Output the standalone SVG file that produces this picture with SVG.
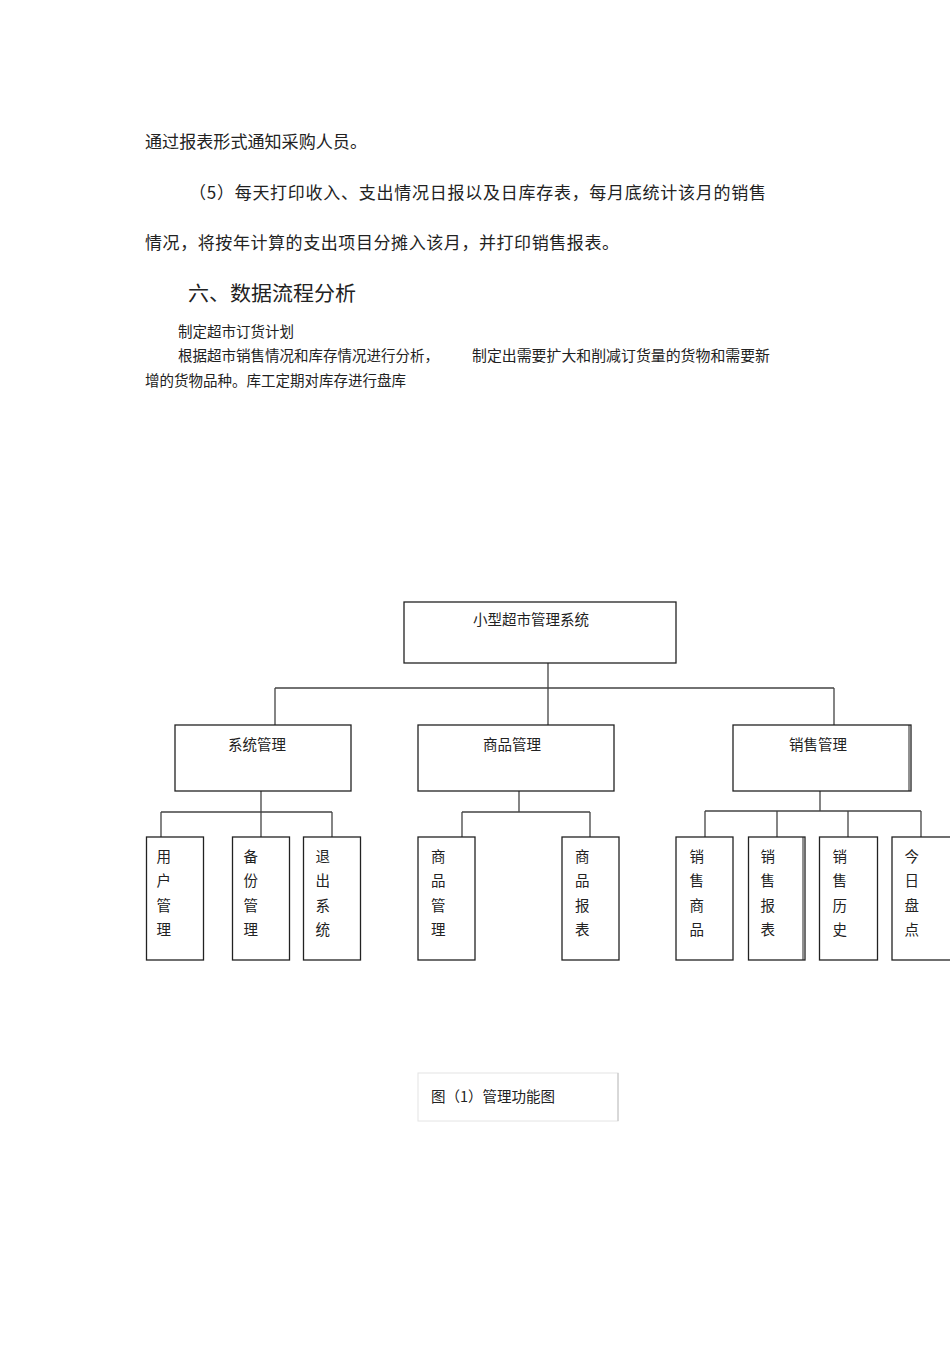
<svg xmlns="http://www.w3.org/2000/svg" width="950" height="1345" viewBox="0 0 950 1345">
<style>
.t{font-family:"Noto Sans CJK SC","Liberation Sans",sans-serif;fill:#222}
.p{font-size:17px}
.h{font-size:20px}
.s{font-size:14.5px}
.b{fill:#fff;stroke:#222;stroke-width:1.3}
.c{fill:none;stroke:#444;stroke-width:1.3}
</style>
<rect width="950" height="1345" fill="#fff"/>
<g id="body-text">
<text class="t p" x="145" y="148" textLength="222" lengthAdjust="spacingAndGlyphs">通过报表形式通知采购人员。</text>
<text class="t p" x="189" y="199" textLength="577" lengthAdjust="spacing">（5）每天打印收入、支出情况日报以及日库存表，每月底统计该月的销售</text>
<text class="t p" x="145" y="249" textLength="474" lengthAdjust="spacing">情况，将按年计算的支出项目分摊入该月，并打印销售报表。</text>
<text class="t h" x="188" y="301" textLength="168" lengthAdjust="spacingAndGlyphs">六、数据流程分析</text>
<text class="t s" x="178" y="337">制定超市订货计划</text>
<text class="t s" x="178" y="361">根据超市销售情况和库存情况进行分析，</text>
<text class="t s" x="472" y="361" textLength="298" lengthAdjust="spacingAndGlyphs">制定出需要扩大和削减订货量的货物和需要新</text>
<text class="t s" x="145" y="386">增的货物品种。库工定期对库存进行盘库</text>
</g>
<g id="connectors">
<path class="c" d="M548 663V725M275 688H834M275 688V725M834 688V725"/>
<path class="c" d="M261 791V837M161 812H332M161 812V837M332 812V837"/>
<path class="c" d="M519 791V812M462 812H590M462 812V837M590 812V837"/>
<path class="c" d="M820 791V811M705 811H921M705 811V837M777 811V837M848 811V837M921 811V837"/>
</g>
<g id="root">
<rect class="b" x="404" y="602" width="272" height="61"/>
<text class="t s" x="473" y="625">小型超市管理系统</text>
</g>
<g id="sys">
<rect class="b" x="175" y="725" width="176" height="66"/>
<text class="t s" x="228" y="750">系统管理</text>
</g>
<g id="goods">
<rect class="b" x="418" y="725" width="196" height="66"/>
<text class="t s" x="483" y="750">商品管理</text>
</g>
<g id="sales">
<rect class="b" x="733" y="725" width="178" height="66"/>
<line x1="909" y1="725" x2="909" y2="791" stroke="#222" stroke-width="1"/>
<text class="t s" x="789" y="750">销售管理</text>
</g>
<g id="user">
<rect class="b" x="146.5" y="837" width="57" height="123"/>
<text class="t s" x="156.5" y="862">用</text><text class="t s" x="156.5" y="886">户</text><text class="t s" x="156.5" y="910.5">管</text><text class="t s" x="156.5" y="934.5">理</text>
</g>
<g id="backup">
<rect class="b" x="232.5" y="837" width="57" height="123"/>
<text class="t s" x="243.5" y="862">备</text><text class="t s" x="243.5" y="886">份</text><text class="t s" x="243.5" y="910.5">管</text><text class="t s" x="243.5" y="934.5">理</text>
</g>
<g id="exit">
<rect class="b" x="303.5" y="837" width="57" height="123"/>
<text class="t s" x="315.5" y="862">退</text><text class="t s" x="315.5" y="886">出</text><text class="t s" x="315.5" y="910.5">系</text><text class="t s" x="315.5" y="934.5">统</text>
</g>
<g id="goods-mgmt">
<rect class="b" x="418" y="837" width="57" height="123"/>
<text class="t s" x="431" y="862">商</text><text class="t s" x="431" y="886">品</text><text class="t s" x="431" y="910.5">管</text><text class="t s" x="431" y="934.5">理</text>
</g>
<g id="goods-report">
<rect class="b" x="562" y="837" width="57" height="123"/>
<text class="t s" x="575" y="862">商</text><text class="t s" x="575" y="886">品</text><text class="t s" x="575" y="910.5">报</text><text class="t s" x="575" y="934.5">表</text>
</g>
<g id="sell-goods">
<rect class="b" x="676" y="837" width="57" height="123"/>
<text class="t s" x="689.5" y="862">销</text><text class="t s" x="689.5" y="886">售</text><text class="t s" x="689.5" y="910.5">商</text><text class="t s" x="689.5" y="934.5">品</text>
</g>
<g id="sell-report">
<rect class="b" x="748.5" y="837" width="56.5" height="123"/>
<line x1="803" y1="837" x2="803" y2="960" stroke="#222" stroke-width="1"/>
<text class="t s" x="760.5" y="862">销</text><text class="t s" x="760.5" y="886">售</text><text class="t s" x="760.5" y="910.5">报</text><text class="t s" x="760.5" y="934.5">表</text>
</g>
<g id="sell-history">
<rect class="b" x="819.5" y="837" width="58" height="123"/>
<text class="t s" x="832.5" y="862">销</text><text class="t s" x="832.5" y="886">售</text><text class="t s" x="832.5" y="910.5">历</text><text class="t s" x="832.5" y="934.5">史</text>
</g>
<g id="stocktake">
<rect class="b" x="892" y="837" width="70" height="123"/>
<text class="t s" x="904.5" y="862">今</text><text class="t s" x="904.5" y="886">日</text><text class="t s" x="904.5" y="910.5">盘</text><text class="t s" x="904.5" y="934.5">点</text>
</g>
<g id="caption">
<rect x="418" y="1073" width="200" height="48" fill="#fff" stroke="#e4e4e4" stroke-width="1"/>
<line x1="618" y1="1073" x2="618" y2="1121" stroke="#c8c8c8" stroke-width="1.2"/>
<text class="t s" x="431" y="1102">图（1）管理功能图</text>
</g>
</svg>
